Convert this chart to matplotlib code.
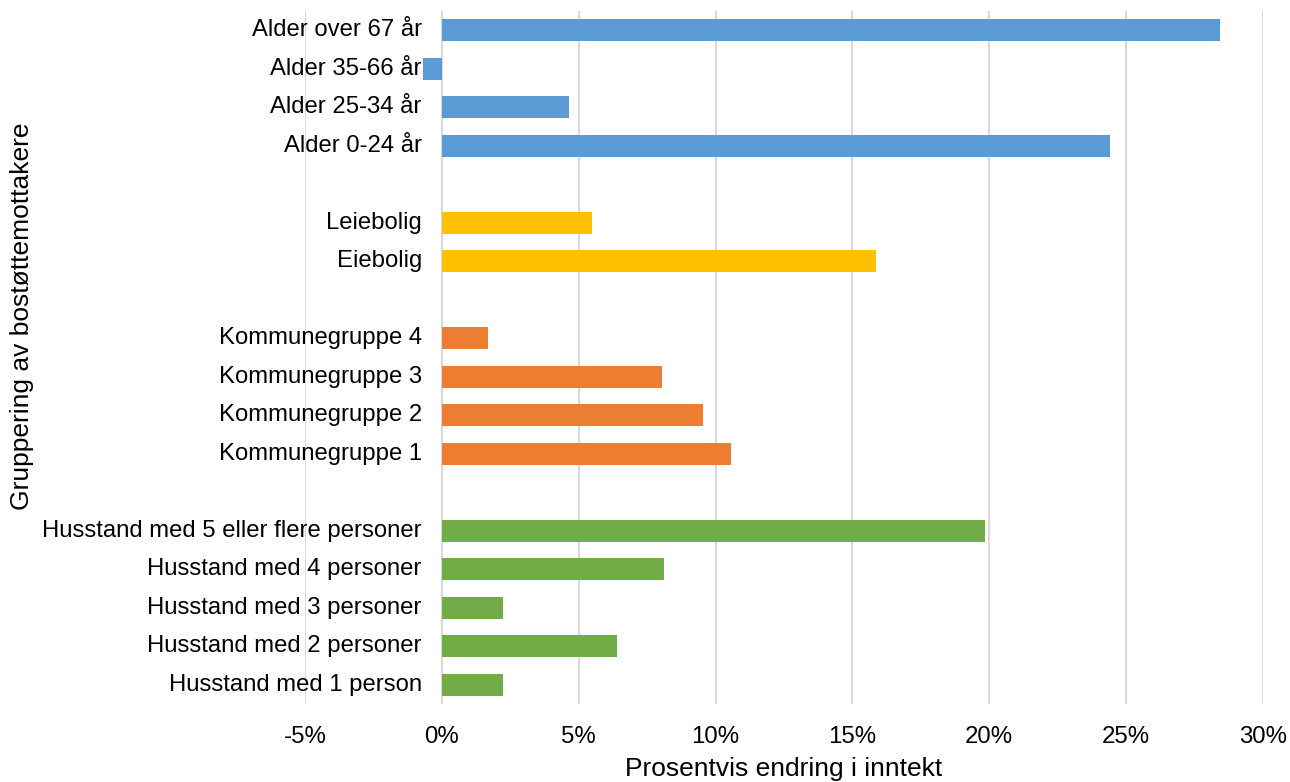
"""Prosentvis endring i inntekt etter gruppering av bostøttemottakere."""

import matplotlib

matplotlib.use("Agg")
import matplotlib.pyplot as plt
from matplotlib.ticker import FuncFormatter
from matplotlib.transforms import offset_copy

plt.rcParams["font.family"] = ["Liberation Sans", "DejaVu Sans"]

# top-to-bottom; None marks the blank spacer rows between groups
LABELS = [
    "Alder over 67 år", "Alder 35-66 år", "Alder 25-34 år", "Alder 0-24 år",
    None,
    "Leiebolig", "Eiebolig",
    None,
    "Kommunegruppe 4", "Kommunegruppe 3", "Kommunegruppe 2", "Kommunegruppe 1",
    None,
    "Husstand med 5 eller flere personer", "Husstand med 4 personer",
    "Husstand med 3 personer", "Husstand med 2 personer", "Husstand med 1 person",
]
VALUES = [
    28.45, -0.7, 4.65, 24.4,
    None,
    5.5, 15.85,
    None,
    1.7, 8.05, 9.55, 10.55,
    None,
    19.85, 8.1, 2.25, 6.4, 2.25,
]
GROUP = ["alder"] * 4 + [None] + ["bolig"] * 2 + [None] + ["kommune"] * 4 + [None] + ["husstand"] * 5
COLORS = {"alder": "#5B9BD5", "bolig": "#FFC000", "kommune": "#ED7D31", "husstand": "#70AD47"}
XTICKS = [-5, 0, 5, 10, 15, 20, 25, 30]


def main() -> None:
    fig = plt.figure(figsize=(12.9, 7.82), dpi=100)
    ax = fig.add_axes([0.2364, 0.0997, 0.7426, 0.8863])

    for i, (lab, val, grp) in enumerate(zip(LABELS, VALUES, GROUP)):
        if lab is None:
            continue
        ax.barh(i, val, height=0.57, color=COLORS[grp], zorder=3)

    ax.set_xlim(-5, 30)
    ax.set_ylim(len(LABELS) - 0.5, -0.5)
    ax.set_xticks(XTICKS)
    ax.xaxis.set_major_formatter(FuncFormatter(lambda v, _: f"{v:.0f}%"))
    ax.grid(axis="x", color="#D9D9D9", linewidth=1.5, zorder=0)
    ax.set_yticks([])
    ax.tick_params(axis="x", length=0, labelsize=17.3, pad=16)
    for s in ax.spines.values():
        s.set_visible(False)

    # category labels sit next to the zero line, as in the spreadsheet chart
    trans = offset_copy(ax.transData, fig=fig, x=-20, y=0, units="dots")
    for i, lab in enumerate(LABELS):
        if lab is None:
            continue
        ax.text(0, i, lab, transform=trans, ha="right", va="center", fontsize=17.2)

    ax.set_xlabel("Prosentvis endring i inntekt", fontsize=19, labelpad=6)
    fig.text(0.017, 0.596, "Gruppering av bostøttemottakere", rotation=90,
             ha="center", va="center", fontsize=19)

    fig.savefig("out.png", dpi=100)
    plt.close(fig)


if __name__ == "__main__":
    main()
